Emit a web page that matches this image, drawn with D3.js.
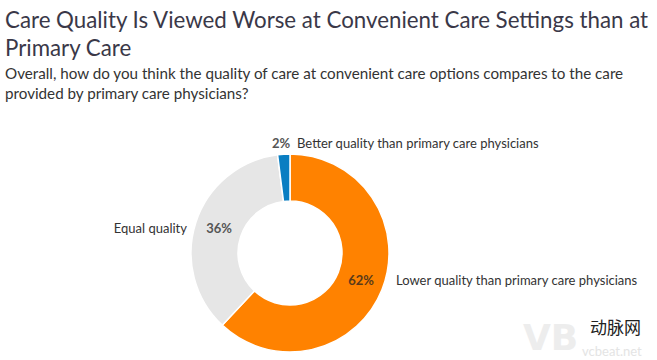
<!DOCTYPE html>
<html><head><meta charset="utf-8">
<script src="https://cdn.jsdelivr.net/npm/d3@7"></script>
<style>body{margin:0;background:#fff;} svg{display:block;font-family:Lato,"Open Sans",sans-serif;}</style>
</head><body><svg id="c" width="657" height="360"></svg>
<script>
const categories = ["Lower quality than primary care physicians", "Equal quality", "Better quality than primary care physicians"];
const values = [62, 36, 2];
const valueLabels = ["62%", "36%", "2%"];
const colors = ["#FF8200", "#E6E6E6", "#0A7EC2"];

const svg = d3.select("#c");
const titleLines = ["Care Quality Is Viewed Worse at Convenient Care Settings than at", "Primary Care"];
const subLines = ["Overall, how do you think the quality of care at convenient care options compares to the care", "provided by primary care physicians?"];

svg.append("g").selectAll("text").data(titleLines).join("text")
  .attr("x", 5).attr("y", (d,i)=>28+i*28)
  .attr("font-size", 22.3).attr("fill", "#3a3848").text(d=>d)
  .each(function(d,i){
    const w = this.getComputedTextLength();
    if (i===0 && w > 644) d3.select(this).attr("textLength", 644).attr("lengthAdjust","spacingAndGlyphs");
  });
svg.append("g").selectAll("text").data(subLines).join("text")
  .attr("x", 5).attr("y", (d,i)=>79+i*20)
  .attr("font-size", 15.2).attr("fill", "#333").text(d=>d);

const cx = 290, cy = 253, R = 99, r = 52;
const pie = d3.pie().sort(null).value(d=>d)(values);
const arc = d3.arc().innerRadius(r).outerRadius(R);
const g = svg.append("g").attr("transform", `translate(${cx},${cy})`);
g.selectAll("path").data(pie).join("path")
  .attr("d", arc).attr("fill", (d,i)=>colors[i])
  .attr("stroke", "#fff").attr("stroke-width", 1.5);

const labelPos = [
  {v:[361,285], c:[396,285], ca:"start"},
  {v:[219,233], c:[187,233], ca:"end"},
  {v:[281,148], c:[297,148], ca:"start"}
];
svg.append("g").selectAll("text").data(valueLabels).join("text")
  .attr("x", (d,i)=>labelPos[i].v[0]).attr("y", (d,i)=>labelPos[i].v[1])
  .attr("text-anchor", "middle").attr("font-size", 13).attr("font-weight", "bold")
  .attr("fill", (d,i)=> i===0 ? "#5a3a1a" : "#555").text(d=>d);
svg.append("g").selectAll("text").data(categories).join("text")
  .attr("x", (d,i)=>labelPos[i].c[0]).attr("y", (d,i)=>labelPos[i].c[1])
  .attr("text-anchor", (d,i)=>labelPos[i].ca).attr("font-size", 13)
  .attr("fill", "#333").text(d=>d);

// watermark
const wm = svg.append("g");
wm.append("text").attr("x", 523).attr("y", 350).attr("font-size", 36).attr("font-weight","bold")
  .attr("fill", "#ededed").attr("font-family","DejaVu Sans").text("VB");
wm.append("text").attr("x", 590).attr("y", 334).attr("font-size", 17)
  .attr("font-family", "Noto Sans CJK SC").attr("fill", "#222").text("动脉网");
wm.append("text").attr("x", 582).attr("y", 356).attr("font-size", 13)
  .attr("fill", "#e4e4e4").text("vcbeat.net");
</script></body></html>
